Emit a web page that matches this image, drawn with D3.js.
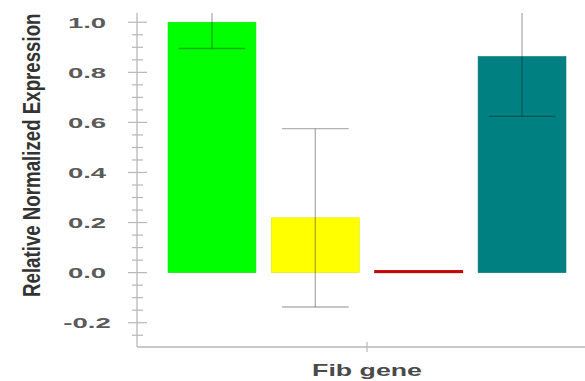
<!DOCTYPE html>
<html><head><meta charset="utf-8">
<script src="https://cdn.jsdelivr.net/npm/d3@7"></script>
<style>html,body{margin:0;padding:0;background:#fff;}svg{display:block;}</style>
</head><body>
<svg id="c" width="585" height="381"></svg>
<script>
const groups = ["Fib gene"];
const series = ["S1", "S2", "S3", "S4"];
const values = [1.0, 0.219, 0.008, 0.863];
const errors = [0.105, 0.356, 0.0, 0.239];
const colors = ["#00ff00", "#ffff00", "#cc0000", "#008080"];
const yTicks = [-0.2, 0.0, 0.2, 0.4, 0.6, 0.8, 1.0];
const yLabel = "Relative Normalized Expression";

(function () {
const svg = d3.select("#c");
const pTop = 13, pBottom = 347, pLeft = 137, pRight = 597;
const y = d3.scaleLinear().domain([-0.297, 1.037]).range([pBottom, pTop]);
const x0 = d3.scaleBand().domain(groups).range([pLeft, pRight]).paddingInner(0).paddingOuter(0.078);
const x1 = d3.scaleBand().domain(series).range([0, x0.bandwidth()]).paddingInner(0.15).paddingOuter(0);

svg.append("defs").append("clipPath").attr("id", "plot")
  .append("rect").attr("x", pLeft).attr("y", pTop).attr("width", pRight - pLeft).attr("height", pBottom - pTop);

const axisColor = "#b8b8b8";
const yAxis = svg.append("g");
yAxis.append("line").attr("x1", pLeft).attr("x2", pLeft).attr("y1", pTop).attr("y2", pBottom)
  .attr("stroke", axisColor).attr("stroke-width", 1.3);
const minor = d3.range(-0.25, 1.0001, 0.05).map(v => +v.toFixed(2));
const isMajor = d => yTicks.some(t => Math.abs(t - d) < 1e-6);
yAxis.selectAll(".mn").data(minor).join("line")
  .attr("x1", d => isMajor(d) ? pLeft - 9 : pLeft - 5)
  .attr("x2", d => isMajor(d) ? pLeft + 10 : pLeft + 6)
  .attr("y1", d => y(d)).attr("y2", d => y(d))
  .attr("stroke", axisColor).attr("stroke-width", 1.2);
yAxis.selectAll(".tl").data(yTicks).join("text")
  .attr("transform", d => `translate(87,${y(d) + 5.5}) scale(1.8,1)`)
  .attr("text-anchor", "middle")
  .attr("font-family", "Liberation Sans, Arial, sans-serif")
  .attr("font-weight", "bold").attr("font-size", 15.3)
  .attr("fill", "#5a5a5a")
  .text(d => d.toFixed(1));

svg.append("line").attr("x1", pLeft).attr("x2", pRight).attr("y1", pBottom).attr("y2", pBottom)
  .attr("stroke", axisColor).attr("stroke-width", 1.3);
svg.selectAll(".xt").data(groups).join("line")
  .attr("x1", d => x0(d) + x0.bandwidth() / 2).attr("x2", d => x0(d) + x0.bandwidth() / 2)
  .attr("y1", pBottom - 5).attr("y2", pBottom + 5)
  .attr("stroke", axisColor).attr("stroke-width", 1.2);
svg.selectAll(".xl").data(groups).join("text")
  .attr("transform", d => `translate(${x0(d) + x0.bandwidth() / 2},376) scale(1.62,1)`)
  .attr("text-anchor", "middle")
  .attr("font-family", "Liberation Sans, Arial, sans-serif")
  .attr("font-weight", "bold").attr("font-size", 16.5)
  .attr("fill", "#4a4a4a")
  .text(d => d);

svg.append("text")
  .attr("transform", "translate(40,297) scale(1.27,1) rotate(-90)")
  .attr("font-family", "Liberation Sans, Arial, sans-serif")
  .attr("font-weight", "bold").attr("font-size", 18.7)
  .attr("fill", "#333")
  .text(yLabel);

const data = series.map((s, i) => ({ s, v: values[i], e: errors[i], c: colors[i] }));
const g = svg.append("g").attr("clip-path", "url(#plot)");
groups.forEach(gr => {
  const gx = x0(gr);
  g.selectAll(".bar").data(data).join("rect")
    .attr("x", d => gx + x1(d.s)).attr("width", x1.bandwidth())
    .attr("y", d => y(Math.max(0, d.v))).attr("height", d => Math.abs(y(d.v) - y(0)))
    .attr("fill", d => d.c)
    .attr("stroke", d => d3.color(d.c).darker(0.3)).attr("stroke-width", d => d.v < 0.05 ? 1 : 0.6);
  const eb = data.filter(d => d.e > 0);
  const cx = d => gx + x1(d.s) + x1.bandwidth() / 2;
  const capW = x1.bandwidth() * 0.76;
  g.selectAll(".ev").data(eb).join("line")
    .attr("x1", cx).attr("x2", cx)
    .attr("y1", d => y(d.v + d.e)).attr("y2", d => y(d.v - d.e))
    .attr("stroke", "rgba(0,0,0,0.3)").attr("stroke-width", 1.4);
  ["up", "dn"].forEach(k => {
    g.selectAll(".cap" + k).data(eb).join("line")
      .attr("x1", d => cx(d) - capW / 2).attr("x2", d => cx(d) + capW / 2)
      .attr("y1", d => y(k === "up" ? d.v + d.e : d.v - d.e))
      .attr("y2", d => y(k === "up" ? d.v + d.e : d.v - d.e))
      .attr("stroke", "rgba(0,0,0,0.3)").attr("stroke-width", 1.4);
  });
});
})();
</script>
</body></html>
